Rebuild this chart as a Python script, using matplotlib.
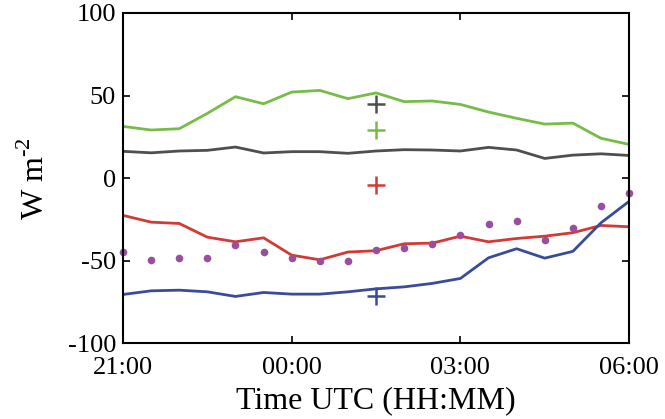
import matplotlib
matplotlib.use("Agg")
import matplotlib.pyplot as plt
import numpy as np

# ---------------------------------------------------------------------------
# Data (hours after 21:00 UTC, half-hourly)
# ---------------------------------------------------------------------------

hours = np.arange(0, 9.01, 0.5)

green = [31.3, 29.1, 29.9, 39.2, 49.3, 45.0, 52.1, 53.1, 48.1, 51.6,
         46.3, 46.7, 44.6, 40.0, 36.2, 32.7, 33.3, 24.1, 20.4]
gray = [16.2, 15.3, 16.4, 16.8, 18.8, 15.2, 16.0, 16.0, 15.0, 16.4,
        17.2, 17.0, 16.4, 18.6, 17.0, 11.9, 13.9, 14.7, 13.7]
red = [-22.6, -26.7, -27.5, -35.8, -38.6, -36.2, -46.7, -49.5, -44.8, -44.0,
       -39.8, -39.4, -35.2, -38.6, -36.6, -35.2, -33.1, -28.7, -29.5]
blue = [-70.5, -68.3, -67.9, -68.9, -71.7, -69.3, -70.3, -70.3, -68.9, -67.1,
        -65.9, -63.8, -60.8, -48.3, -42.8, -48.5, -44.4, -27.1, -14.1]
purple = [-44.8, -49.7, -48.7, -48.7, -40.8, -44.6, -48.7, -50.3, -50.5, -43.8,
          -42.6, -39.8, -34.3, -27.9, -25.9, -37.8, -30.1, -16.8, -8.9]

# mean markers at 01:30
mean_x = 4.5
mean_vals = [44.6, 29.1, -4.4, -71.5]

tick_hours = [0, 3, 6, 9]
tick_labels = ["21:00", "00:00", "03:00", "06:00"]

C_GREEN = "#78bc48"
C_GRAY = "#4f4f4f"
C_RED = "#d23a36"
C_BLUE = "#3b4b9c"
C_PURPLE = "#9a4f9c"

# ---------------------------------------------------------------------------
# Plot
# ---------------------------------------------------------------------------

plt.rcParams["font.family"] = ["Liberation Serif", "DejaVu Serif"]
plt.rcParams["mathtext.fontset"] = "custom"
plt.rcParams["mathtext.rm"] = "Liberation Serif"
plt.rcParams["axes.unicode_minus"] = False

fig = plt.figure(figsize=(6.65, 4.19), dpi=100)
ax = fig.add_axes([0.185, 0.181, 0.761, 0.788])

ax.plot(hours, green, color=C_GREEN, lw=2)
ax.plot(hours, gray, color=C_GRAY, lw=2)
ax.plot(hours, red, color=C_RED, lw=2)
ax.plot(hours, blue, color=C_BLUE, lw=2)
ax.plot(hours, purple, "o", color=C_PURPLE, ms=5.5, mec="none", clip_on=False)

for val, color in zip(mean_vals, [C_GRAY, C_GREEN, C_RED, C_BLUE]):
    ax.plot(mean_x, val, "+", color=color, ms=13, mew=1.8)

ax.set_xlim(0, 9)
ax.set_ylim(-100, 100)
ax.set_xticks(tick_hours)
ax.set_xticklabels(tick_labels)
ax.set_yticks([-100, -50, 0, 50, 100])
ax.tick_params(direction="in", top=True, right=True, labelsize=19,
               length=5, width=1.2)
ax.tick_params(axis="x", pad=10)
ax.tick_params(axis="y", pad=5)
for s in ax.spines.values():
    s.set_linewidth(1.5)

ax.set_xlabel("Time UTC (HH:MM)", fontsize=23, labelpad=5)
ax.set_ylabel(r"W m$^{\text{-2}}$", fontsize=23, labelpad=12)

fig.savefig("out.png", dpi=100)
